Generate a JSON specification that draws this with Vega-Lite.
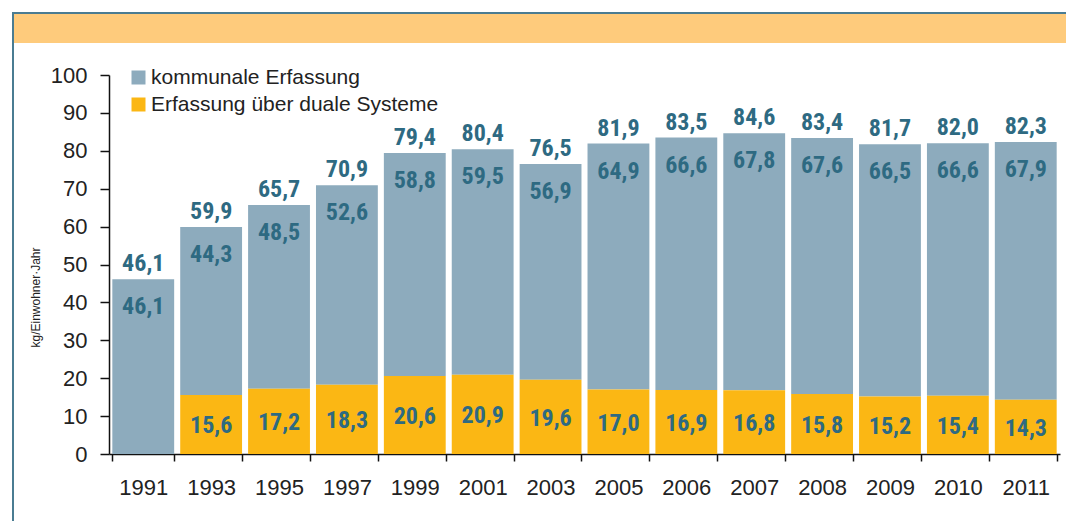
{
  "$schema": "https://vega.github.io/schema/vega-lite/v6.json",
  "padding": {"left": 12, "top": 12, "right": 0, "bottom": 0},
  "background": "white",
  "config": {
    "locale": {"number": {"decimal": ",", "thousands": ".", "grouping": [3], "currency": ["", " €"]}},
    "view": {"stroke": null},
    "font": "Liberation Sans"
  },
  "concat": [
    {
      "width": 2, "height": 509,
      "data": {"values": [{}]},
      "mark": {"type": "point", "opacity": 0, "size": 0, "strokeWidth": 0},
      "encoding": {},
      "view": {"fill": "#4A7C92", "stroke": null}
    },
    {
      "concat": [
        {
          "concat": [
            {
              "width": 1052, "height": 2,
              "data": {"values": [{}]},
              "mark": {"type": "point", "opacity": 0, "size": 0, "strokeWidth": 0},
              "encoding": {},
              "view": {"fill": "#4A7C92", "stroke": null}
            },
            {
              "width": 1052, "height": 29,
              "data": {"values": [{}]},
              "mark": {"type": "point", "opacity": 0, "size": 0, "strokeWidth": 0},
              "encoding": {},
              "view": {"fill": "#FECB7C", "stroke": null}
            }
          ],
          "columns": 1, "spacing": 0, "align": "none"
        },
        {
          "concat": [
            {
              "width": 15, "height": 10,
              "data": {"values": [{}]},
              "mark": {"type": "point", "opacity": 0, "size": 0, "strokeWidth": 0},
              "encoding": {}
            },
            {
              "width": 951, "height": 379,
              "data": {"values": [
                {"Jahr": "1991", "kommunal": 46.1, "dual": 0, "gesamt": 46.1},
                {"Jahr": "1993", "kommunal": 44.3, "dual": 15.6, "gesamt": 59.9},
                {"Jahr": "1995", "kommunal": 48.5, "dual": 17.2, "gesamt": 65.7},
                {"Jahr": "1997", "kommunal": 52.6, "dual": 18.3, "gesamt": 70.9},
                {"Jahr": "1999", "kommunal": 58.8, "dual": 20.6, "gesamt": 79.4},
                {"Jahr": "2001", "kommunal": 59.5, "dual": 20.9, "gesamt": 80.4},
                {"Jahr": "2003", "kommunal": 56.9, "dual": 19.6, "gesamt": 76.5},
                {"Jahr": "2005", "kommunal": 64.9, "dual": 17.0, "gesamt": 81.9},
                {"Jahr": "2006", "kommunal": 66.6, "dual": 16.9, "gesamt": 83.5},
                {"Jahr": "2007", "kommunal": 67.8, "dual": 16.8, "gesamt": 84.6},
                {"Jahr": "2008", "kommunal": 67.6, "dual": 15.8, "gesamt": 83.4},
                {"Jahr": "2009", "kommunal": 66.5, "dual": 15.2, "gesamt": 81.7},
                {"Jahr": "2010", "kommunal": 66.6, "dual": 15.4, "gesamt": 82.0},
                {"Jahr": "2011", "kommunal": 67.9, "dual": 14.3, "gesamt": 82.3}
              ]},
              "encoding": {
                "x": {
                  "field": "Jahr", "type": "nominal", "sort": null,
                  "scale": {"paddingInner": 0.089, "paddingOuter": 0.049},
                  "axis": {
                    "title": null, "labelAngle": 0, "tickBand": "extent",
                    "tickSize": 7, "tickWidth": 1.5, "tickColor": "#111",
                    "domainColor": "#111", "domainWidth": 1.5,
                    "labelFont": "Liberation Sans", "labelFontSize": 22, "labelColor": "#222",
                    "labelPadding": 16
                  }
                }
              },
              "layer": [
                {
                  "mark": {"type": "bar"},
                  "encoding": {
                    "y": {
                      "field": "gesamt", "type": "quantitative",
                      "scale": {"domain": [0, 100]},
                      "axis": {
                        "values": [0, 10, 20, 30, 40, 50, 60, 70, 80, 90, 100],
                        "grid": false,
                        "title": "kg/Einwohner·Jahr",
                        "titleFont": "Liberation Sans", "titleFontSize": 12, "titleFontWeight": "normal",
                        "titleColor": "#222", "titlePadding": 8, "titleY": 222,
                        "tickSize": 9, "tickWidth": 1.5, "tickColor": "#111",
                        "domainColor": "#111", "domainWidth": 1.5,
                        "labelFont": "Liberation Sans", "labelFontSize": 22, "labelColor": "#222",
                        "labelPadding": 13
                      }
                    },
                    "y2": {"field": "dual"},
                    "color": {
                      "datum": "kommunale Erfassung", "type": "nominal",
                      "scale": {
                        "domain": ["kommunale Erfassung", "Erfassung über duale Systeme"],
                        "range": ["#8DABBD", "#FBB714"]
                      },
                      "legend": {
                        "title": null, "orient": "none", "legendX": 19, "legendY": -8,
                        "symbolType": "square", "symbolSize": 196, "symbolStrokeWidth": 0,
                        "symbolOpacity": 1, "labelLimit": 500,
                        "labelFont": "Liberation Sans", "labelFontSize": 21, "labelColor": "#222",
                        "labelOffset": 2, "rowPadding": 5, "padding": 0
                      }
                    }
                  }
                },
                {
                  "mark": {"type": "bar"},
                  "encoding": {
                    "y": {"field": "dual", "type": "quantitative", "scale": {"domain": [0, 100]}, "axis": null},
                    "color": {"datum": "Erfassung über duale Systeme", "type": "nominal"}
                  }
                },
                {
                  "mark": {"type": "text", "baseline": "middle", "dy": -15, "font": "Roboto Condensed, Liberation Sans Narrow, DejaVu Sans Condensed, sans-serif", "fontWeight": "bold", "fontSize": 24, "color": "#2E6A82"},
                  "encoding": {
                    "y": {"field": "gesamt", "type": "quantitative", "scale": {"domain": [0, 100]}, "axis": null},
                    "text": {"field": "gesamt", "type": "quantitative", "format": ".1f"}
                  }
                },
                {
                  "mark": {"type": "text", "baseline": "middle", "dy": 28, "font": "Roboto Condensed, Liberation Sans Narrow, DejaVu Sans Condensed, sans-serif", "fontWeight": "bold", "fontSize": 24, "color": "#2E6A82"},
                  "encoding": {
                    "y": {"field": "gesamt", "type": "quantitative", "scale": {"domain": [0, 100]}, "axis": null},
                    "text": {"field": "kommunal", "type": "quantitative", "format": ".1f"}
                  }
                },
                {
                  "transform": [{"filter": "datum.dual > 0"}],
                  "mark": {"type": "text", "baseline": "middle", "dy": 2, "font": "Roboto Condensed, Liberation Sans Narrow, DejaVu Sans Condensed, sans-serif", "fontWeight": "bold", "fontSize": 24, "color": "#2E6A82"},
                  "encoding": {
                    "y": {"field": "dual", "type": "quantitative", "scale": {"domain": [0, 200]}, "axis": null},
                    "text": {"field": "dual", "type": "quantitative", "format": ".1f"}
                  }
                }
              ],
              "resolve": {"scale": {"y": "independent"}}
            }
          ],
          "columns": 2, "spacing": 0, "align": "none",
          "resolve": {"scale": {"color": "independent"}, "legend": {"color": "independent"}}
        }
      ],
      "columns": 1, "spacing": 21, "align": "none",
      "resolve": {"scale": {"color": "independent"}, "legend": {"color": "independent"}}
    }
  ],
  "columns": 2, "spacing": 0, "align": "none",
  "resolve": {"scale": {"color": "independent"}, "legend": {"color": "independent"}}
}
